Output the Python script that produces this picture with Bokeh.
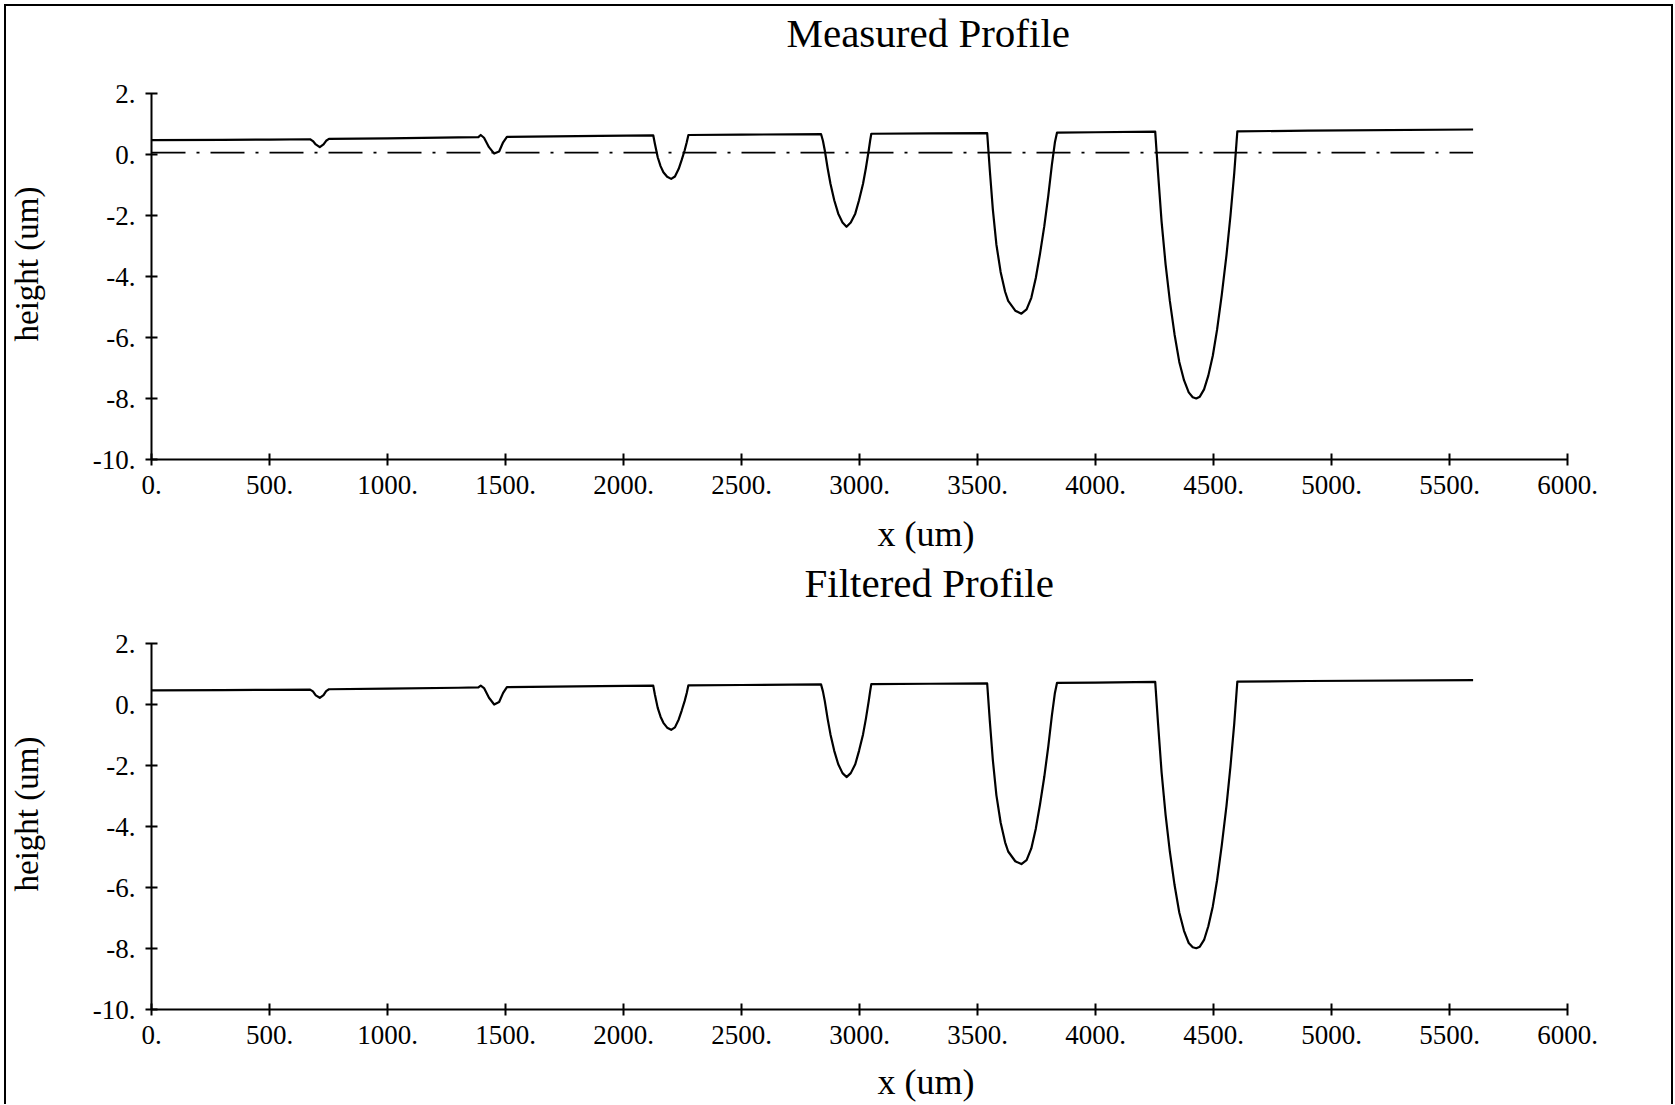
from bokeh.plotting import figure
from bokeh.models import Range1d, FixedTicker, CustomJSTickFormatter, Title
from bokeh.layouts import column
from bokeh.embed import file_html
from bokeh.resources import INLINE

# ---------------- data ----------------
x_ticks = [0, 500, 1000, 1500, 2000, 2500, 3000, 3500, 4000, 4500, 5000, 5500, 6000]
y_ticks = [-10, -8, -6, -4, -2, 0, 2]

# sample positions along the scan (um), shared by both profiles
profile_x = [0, 300, 500, 672, 684, 696, 713, 729, 740, 752, 1000, 1300,
             1385, 1395, 1409, 1430, 1452, 1473, 1490, 1506, 1900,
             2126, 2133, 2145, 2157, 2169, 2185, 2202, 2218, 2234, 2247, 2259, 2268, 2275,
             2500,
             2837, 2845, 2853, 2865, 2877, 2893, 2910, 2928, 2945, 2963, 2982, 2998,
             3015, 3027, 3039, 3045, 3050,
             3300,
             3541, 3552, 3565, 3580, 3598, 3617, 3630, 3660, 3686, 3708, 3728, 3747,
             3765, 3783, 3800, 3815, 3828, 3837,
             4000,
             4253, 4265, 4280, 4297, 4315, 4335, 4355, 4375, 4395, 4412, 4427, 4442,
             4460, 4478, 4497, 4515, 4535, 4555, 4572, 4588, 4601,
             4900, 5600]

measured_y = [0.47, 0.48, 0.49, 0.50, 0.44, 0.33, 0.24, 0.33, 0.45, 0.51, 0.53, 0.56,
              0.57, 0.64, 0.55, 0.24, 0.03, 0.10, 0.40, 0.58, 0.61,
              0.63, 0.35, -0.09, -0.38, -0.58, -0.73, -0.80, -0.72, -0.47, -0.17, 0.13, 0.40, 0.64,
              0.65,
              0.67, 0.45, 0.13, -0.45, -0.96, -1.50, -1.94, -2.23, -2.37, -2.23, -1.94, -1.50,
              -0.96, -0.45, 0.13, 0.45, 0.68,
              0.69,
              0.70, -0.50, -1.80, -2.95, -3.85, -4.50, -4.80, -5.12, -5.22, -5.08, -4.70, -4.05,
              -3.25, -2.35, -1.35, -0.35, 0.40, 0.72,
              0.73,
              0.75, -0.60, -2.20, -3.60, -4.80, -5.90, -6.80, -7.40, -7.80, -7.96, -8.00, -7.94,
              -7.70, -7.25, -6.60, -5.75, -4.60, -3.30, -2.00, -0.60, 0.76,
              0.78, 0.82]

reference_x = [0, 5600]
reference_y = [0.06, 0.06]

filtered_y = [0.46, 0.47, 0.48, 0.49, 0.43, 0.30, 0.22, 0.31, 0.44, 0.50, 0.52, 0.55,
              0.56, 0.62, 0.54, 0.22, 0.00, 0.08, 0.38, 0.57, 0.60,
              0.62, 0.33, -0.11, -0.40, -0.60, -0.76, -0.83, -0.75, -0.49, -0.19, 0.11, 0.38, 0.63,
              0.64,
              0.66, 0.43, 0.11, -0.47, -0.98, -1.52, -1.96, -2.25, -2.38, -2.25, -1.96, -1.52,
              -0.98, -0.47, 0.11, 0.43, 0.67,
              0.68,
              0.69, -0.52, -1.82, -2.97, -3.87, -4.52, -4.82, -5.14, -5.23, -5.10, -4.72, -4.07,
              -3.27, -2.37, -1.37, -0.37, 0.38, 0.71,
              0.72,
              0.74, -0.62, -2.22, -3.62, -4.82, -5.92, -6.82, -7.42, -7.82, -7.96, -7.99, -7.94,
              -7.72, -7.27, -6.62, -5.77, -4.62, -3.32, -2.02, -0.62, 0.75,
              0.77, 0.80]

titles = ["Measured Profile", "Filtered Profile"]
title_offsets = [635, 653]
x_label = "x (um)"
y_label = "height (um)"

FONT = "Liberation Serif"
FRAME_H = 366
TOP = 87


def spacer(size):
    return Title(text=" ", text_font_size="1px", standoff=size,
                 text_color="white")


def make_panel(title, t_off, xs, ys, height, xlab_gap, ref=None):
    p = figure(width=1665, height=height, title=None,
               x_range=Range1d(0, 6000), y_range=Range1d(-10, 2),
               output_backend="svg", toolbar_location=None,
               min_border_left=143, min_border_right=104,
               min_border_top=TOP, min_border_bottom=height - TOP - FRAME_H)
    p.xgrid.visible = False
    p.ygrid.visible = False
    p.outline_line_color = None
    p.background_fill_color = "white"
    p.border_fill_color = "white"

    fmt = CustomJSTickFormatter(code="return tick.toFixed(0) + '.';")
    p.xaxis.ticker = FixedTicker(ticks=x_ticks)
    p.yaxis.ticker = FixedTicker(ticks=y_ticks)
    for ax in (p.xaxis, p.yaxis):
        ax.formatter = fmt
        ax.minor_tick_line_color = None
        ax.major_tick_in = 6
        ax.major_tick_out = 6
        ax.axis_line_width = 2
        ax.axis_line_color = "black"
        ax.major_tick_line_width = 2
        ax.major_tick_line_color = "black"
        ax.major_label_text_font = FONT
        ax.major_label_text_font_size = "27px"
        ax.major_label_text_color = "black"
        ax.major_label_standoff = 10

    if ref is not None:
        p.line(ref[0], ref[1], line_color="black", line_width=1.6,
               line_dash="34 11 3 11")
    p.line(xs, ys, line_color="black", line_width=2.2, line_join="round")

    # title: spacer next to the frame, then the title text above it
    p.add_layout(spacer(35), "above")
    p.add_layout(Title(text=title, align="left", offset=t_off, standoff=0,
                       text_font=FONT, text_font_size="41px",
                       text_font_style="normal", text_color="black"), "above")

    # x label below the axis
    p.add_layout(spacer(xlab_gap), "below")
    p.add_layout(Title(text=x_label, align="left", offset=726, standoff=0,
                       text_font=FONT, text_font_size="36px",
                       text_font_style="normal", text_color="black"), "below")

    # y label left of the axis
    p.add_layout(spacer(42), "left")
    p.add_layout(Title(text=y_label, align="left", offset=118, standoff=0,
                       text_font=FONT, text_font_size="33px",
                       text_font_style="normal", text_color="black"), "left")
    return p


p1 = make_panel(titles[0], title_offsets[0], profile_x, measured_y, 550, 12,
                ref=(reference_x, reference_y))
p2 = make_panel(titles[1], title_offsets[1], profile_x, filtered_y, 548, 10)

layout = column(p1, p2, styles={"margin-left": "4px", "margin-top": "4px",
                                "border-top": "2px solid black",
                                "border-left": "2px solid black",
                                "border-right": "2px solid black"})

open("out.html", "w").write(file_html(layout, INLINE))
